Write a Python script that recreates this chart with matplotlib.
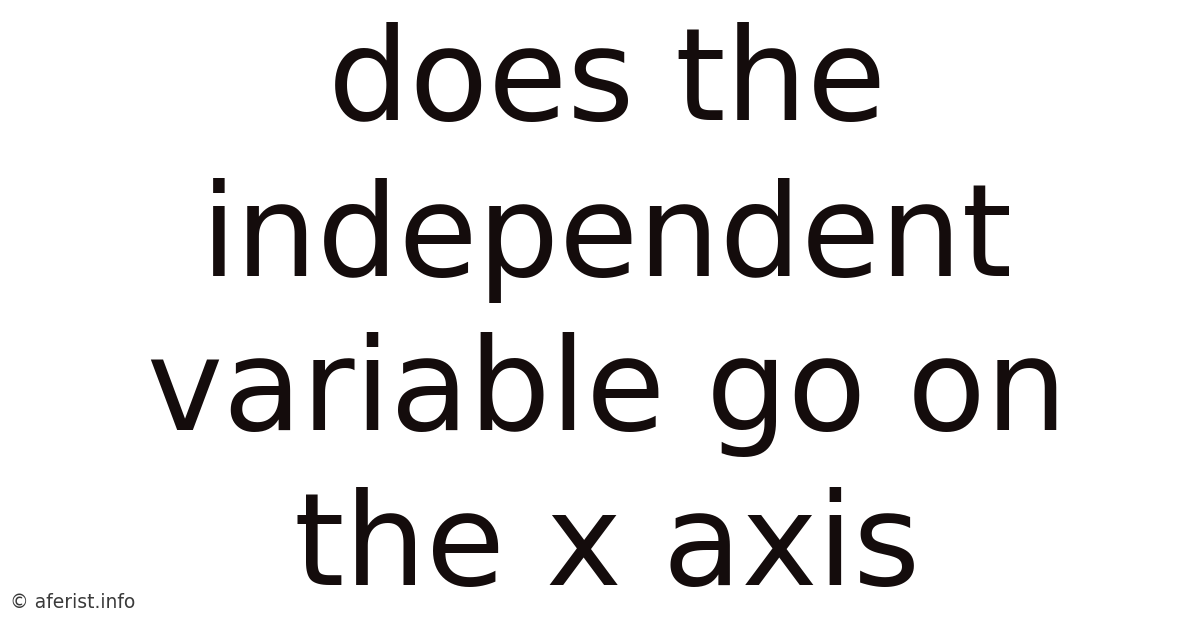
import matplotlib.pyplot as plt

lines = ["does the", "independent", "variable go on", "the x axis"]
baselines = [120, 276, 430, 585]  # pixel rows from top
watermark = "© aferist.info"

W, H = 1200, 628
fig = plt.figure(figsize=(W / 100, H / 100), dpi=100)
fig.patch.set_facecolor("white")

for text, yb in zip(lines, baselines):
    fig.text(0.5 + 7 / W, 1 - yb / H, text, ha="center", va="baseline",
             fontsize=92.5, color="#140c0c", family="DejaVu Sans")

fig.text(10 / W, 1 - 608 / H, watermark, ha="left", va="baseline",
         fontsize=13.5, color="#3a3a3a", family="DejaVu Sans")

fig.savefig("out.png", dpi=100, facecolor="white")
